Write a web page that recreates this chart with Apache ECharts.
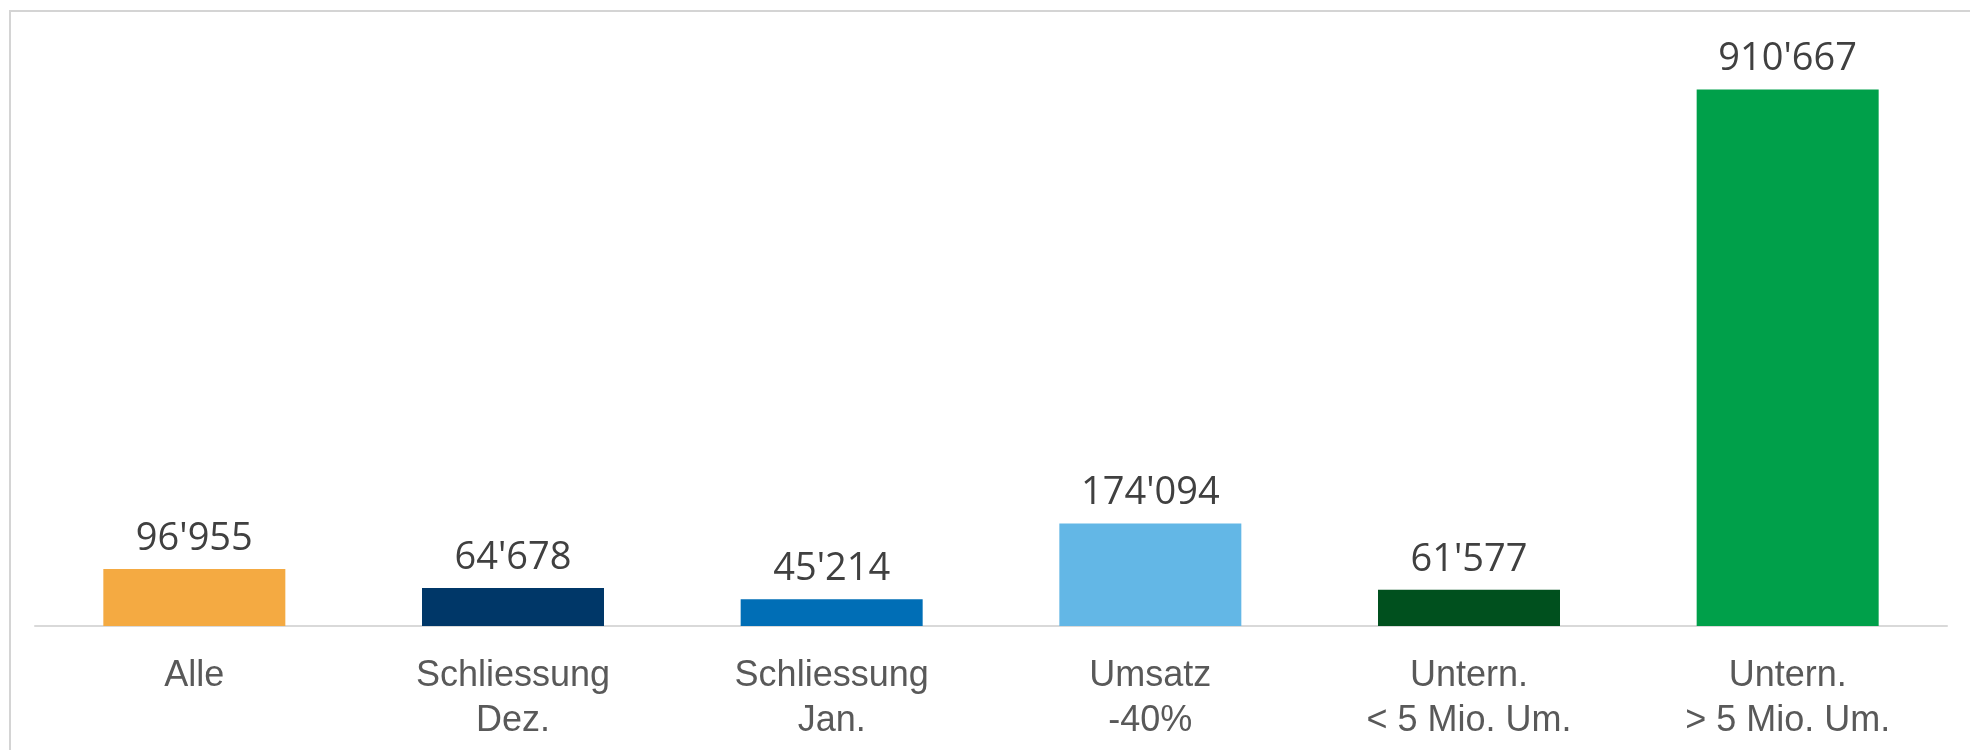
<!DOCTYPE html>
<html>
<head>
<meta charset="utf-8">
<script src="https://cdn.jsdelivr.net/npm/echarts@6/dist/echarts.min.js"></script>
<style>
html,body{margin:0;padding:0;background:#fff;}
#chart{width:1970px;height:750px;}
</style>
</head>
<body>
<div id="chart"></div>
<script>
var categories = ['Alle', 'Schliessung\nDez.', 'Schliessung\nJan.', 'Umsatz\n-40%', 'Untern.\n< 5 Mio. Um.', 'Untern.\n> 5 Mio. Um.'];
var values = [96955, 64678, 45214, 174094, 61577, 910667];
var barColors = ['#F4AA42', '#003768', '#006EB6', '#63B7E6', '#00501E', '#00A04A'];

function fmt(v) {
  return String(v).replace(/\B(?=(\d{3})+(?!\d))/g, "'");
}

var chart = echarts.init(document.getElementById('chart'), null, {renderer: 'canvas'});
chart.setOption({
  backgroundColor: '#ffffff',
  animation: false,
  graphic: [{
    type: 'rect',
    shape: {x: 10, y: 11, width: 2100, height: 900},
    style: {fill: 'none', stroke: '#d4d4d4', lineWidth: 2},
    silent: true
  }],
  grid: {left: 35, right: 23, top: 37, bottom: 124, containLabel: false},
  xAxis: {
    type: 'category',
    data: categories,
    axisLine: {show: true, lineStyle: {color: '#d9d9d9', width: 2}},
    axisTick: {show: false},
    axisLabel: {
      interval: 0,
      margin: 28,
      color: '#595959',
      fontFamily: 'Liberation Sans, Arial, sans-serif',
      fontSize: 36,
      lineHeight: 45
    },
    splitLine: {show: false}
  },
  yAxis: {
    type: 'value',
    min: 0,
    max: 1000000,
    show: false,
    splitLine: {show: false}
  },
  series: [{
    type: 'bar',
    barWidth: 182,
    data: values.map(function (v, i) { return {value: v, itemStyle: {color: barColors[i]}}; }),
    label: {
      show: true,
      position: 'top',
      distance: 11,
      color: '#404040',
      fontFamily: 'Open Sans, sans-serif',
      fontSize: 38,
      formatter: function (p) { return fmt(p.value); }
    }
  }]
});
</script>
</body>
</html>
